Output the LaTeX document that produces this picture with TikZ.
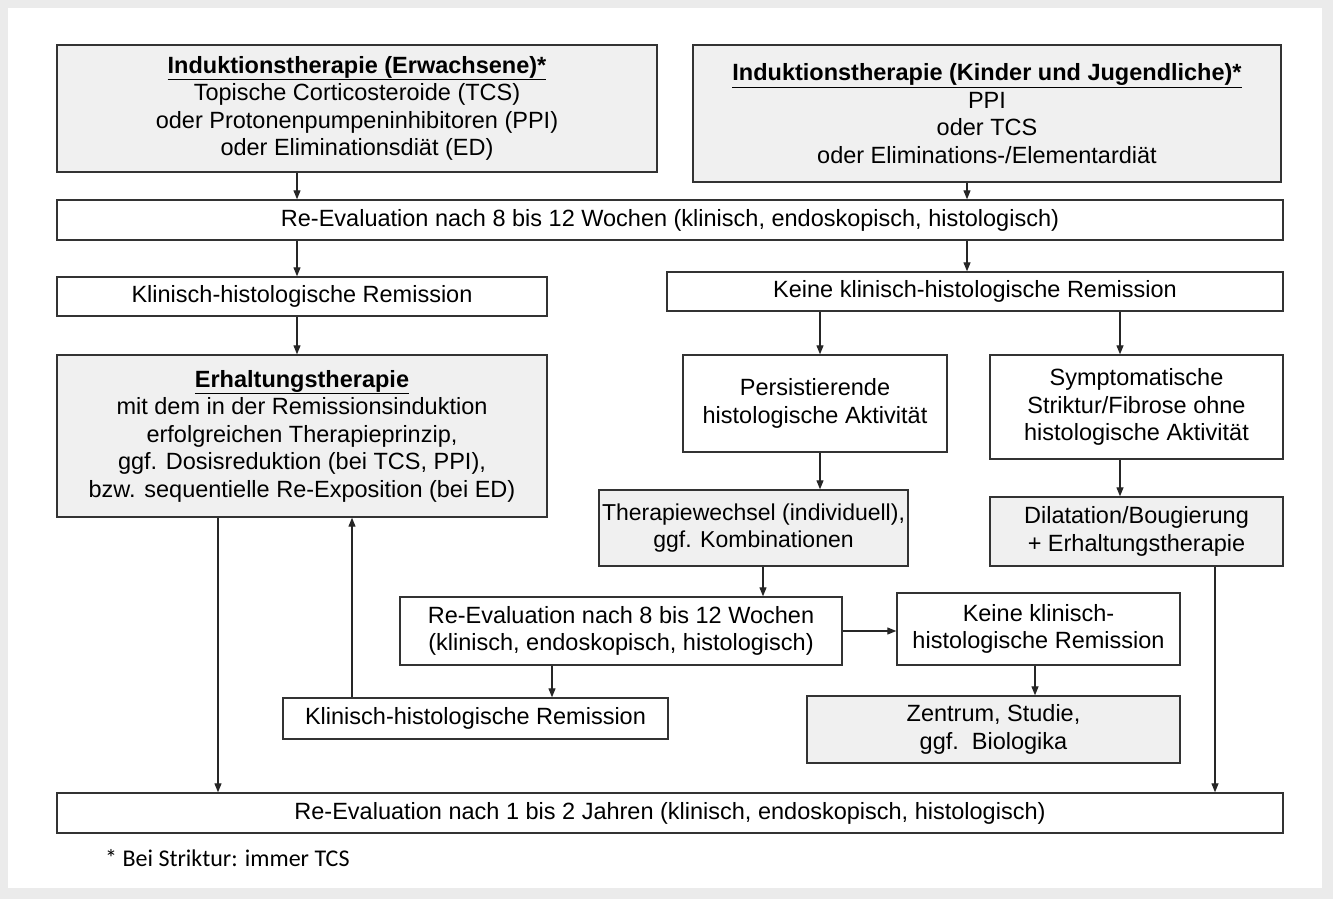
\documentclass[tikz,border=0pt]{standalone}
\usepackage{fontspec}
\setmainfont{Liberation Sans}
\newfontfamily\notefont{Carlito}
\usetikzlibrary{arrows.meta, positioning}

\begin{document}
\begin{tikzpicture}[x=1pt, y=-1pt, >={Triangle[length=9pt,width=7pt]},
  box/.style={draw=black!80, line width=1.4pt, fill=white, align=center,
    inner sep=0pt, font=\fontsize{23.5}{27.5}\selectfont},
  grey box/.style={box, fill=black!6},
  arrow/.style={->, line width=1.2pt, draw=black!85}]

    % frame
    \useasboundingbox (0,0) rectangle (1333,899);
    \fill[black!8] (0,0) rectangle (1333,899);
    \fill[white] (8,8) rectangle (1322,888);

    % columns of the arrows
    \coordinate (c1) at (297,0);
    \coordinate (c2) at (967,0);
    \coordinate (c3) at (820,0);
    \coordinate (c4) at (1120,0);
    \coordinate (c5) at (763,0);
    \coordinate (c6) at (552,0);
    \coordinate (c7) at (352,0);
    \coordinate (c8) at (218,0);
    \coordinate (c9) at (1215,0);
    \coordinate (c10) at (1035,0);

    \node[grey box, minimum width=600pt, minimum height=127pt] (indA) at (357,108.5)
      {\underline{\textbf{Induktionstherapie (Erwachsene)*}}\\Topische Corticosteroide (TCS)\\oder Protonenpumpeninhibitoren (PPI)\\oder Eliminationsdiät (ED)};
    \node[grey box, minimum width=588pt, minimum height=137pt] (indB) at (987,113.5)
      {\underline{\textbf{Induktionstherapie (Kinder und Jugendliche)*}}\\PPI\\oder TCS\\oder Eliminations-/Elementardiät};
    \node[box, minimum width=1226pt, minimum height=40pt] (reeval1) at (670,220)
      {Re-Evaluation nach 8 bis 12 Wochen (klinisch, endoskopisch, histologisch)};
    \node[box, minimum width=490pt, minimum height=39pt] (rem1) at (302,296.5)
      {Klinisch-histologische Remission};
    \node[box, minimum width=616pt, minimum height=39pt] (keine1) at (975,291.5)
      {Keine klinisch-histologische Remission};
    \node[grey box, minimum width=490pt, minimum height=162pt] (erhalt) at (302,436)
      {\underline{\textbf{Erhaltungstherapie}}\\mit dem in der Remissionsinduktion\\erfolgreichen Therapieprinzip,\\ggf. Dosisreduktion (bei TCS, PPI),\\bzw. sequentielle Re-Exposition (bei ED)};
    \node[box, minimum width=264pt, minimum height=97pt] (persist) at (815,403.5)
      {Persistierende\\histologische Aktivität};
    \node[box, minimum width=293pt, minimum height=104pt] (sympt) at (1136.5,407)
      {Symptomatische\\Striktur/Fibrose ohne\\histologische Aktivität};
    \node[grey box, minimum width=309pt, minimum height=76pt, font=\fontsize{23}{27.5}\selectfont] (wechsel) at (753.5,528)
      {Therapiewechsel (individuell),\\ggf. Kombinationen};
    \node[grey box, minimum width=293pt, minimum height=69pt] (dilat) at (1136.5,531.5)
      {Dilatation/Bougierung\\+ Erhaltungstherapie};
    \node[box, minimum width=442pt, minimum height=68pt] (reeval2) at (621,631)
      {Re-Evaluation nach 8 bis 12 Wochen\\(klinisch,\ endoskopisch, histologisch)};
    \node[box, minimum width=283pt, minimum height=72pt] (keine2) at (1038.5,629)
      {Keine klinisch-\\histologische Remission};
    \node[grey box, minimum width=373pt, minimum height=67pt] (zentrum) at (993.5,729.5)
      {Zentrum, Studie,\\ggf.\ \ Biologika};
    \node[box, minimum width=385pt, minimum height=41pt] (rem2) at (475.5,718.5)
      {Klinisch-histologische Remission};
    \node[box, minimum width=1226pt, minimum height=40pt] (reeval3) at (670,813)
      {Re-Evaluation nach 1 bis 2 Jahren (klinisch, endoskopisch, histologisch)};
    \node[anchor=west, inner sep=0pt, font=\notefont\fontsize{24}{28}\selectfont] (note) at (105,858)
      {* Bei Striktur: immer TCS};

    \path (indA.south -| c1) edge[arrow] (reeval1.north -| c1);
    \path (indB.south -| c2) edge[arrow] (reeval1.north -| c2);
    \path (reeval1.south -| c1) edge[arrow] (rem1.north -| c1);
    \path (reeval1.south -| c2) edge[arrow] (keine1.north -| c2);
    \path (rem1.south -| c1) edge[arrow] (erhalt.north -| c1);
    \path (keine1.south -| c3) edge[arrow] (persist.north -| c3);
    \path (keine1.south -| c4) edge[arrow] (sympt.north -| c4);
    \path (persist.south -| c3) edge[arrow] (wechsel.north -| c3);
    \path (sympt.south -| c4) edge[arrow] (dilat.north -| c4);
    \path (wechsel.south -| c5) edge[arrow] (reeval2.north -| c5);
    \path (reeval2.east) edge[arrow] (keine2.west |- reeval2.east);
    \path (reeval2.south -| c6) edge[arrow] (rem2.north -| c6);
    \path (keine2.south -| c10) edge[arrow] (zentrum.north -| c10);
    \path (rem2.north -| c7) edge[arrow] (erhalt.south -| c7);
    \path (erhalt.south -| c8) edge[arrow] (reeval3.north -| c8);
    \path (dilat.south -| c9) edge[arrow] (reeval3.north -| c9);

\end{tikzpicture}
\end{document}
